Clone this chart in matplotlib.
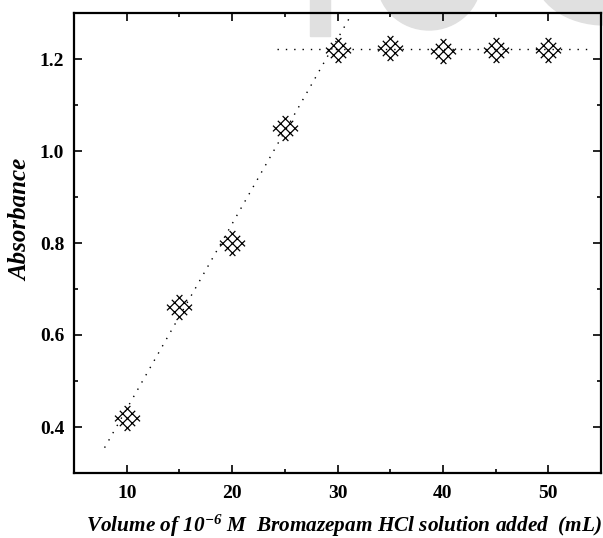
import numpy as np
import matplotlib.pyplot as plt
from matplotlib.path import Path
from matplotlib.patches import Rectangle, Ellipse
from matplotlib.ticker import MultipleLocator

# data
volume = [10, 15, 20, 25, 30, 35, 40, 45, 50]
absorbance = [0.42, 0.66, 0.80, 1.05, 1.22, 1.225, 1.217, 1.22, 1.22]

# the two dotted straight lines (end points)
rise_x = [7.9, 31.4]
rise_y = [0.355, 1.30]
flat_x = [24.3, 53.8]
flat_y = [1.222, 1.222]

plt.rcParams['font.family'] = ['Liberation Serif', 'DejaVu Serif']
plt.rcParams['mathtext.fontset'] = 'custom'
plt.rcParams['mathtext.rm'] = 'Liberation Serif:bold:italic'
plt.rcParams['mathtext.it'] = 'Liberation Serif:bold:italic'

# diagonal lattice (2 x 2 small diamonds) used as marker
d, L = 0.45, 0.72
u = np.array([1.0, 1.0]) / np.sqrt(2)
n = np.array([-1.0, 1.0]) / np.sqrt(2)
verts, codes = [], []
for k in (-1, 0, 1):
    for c, direc in ((k * d * n, u), (k * d * u, n)):
        verts += [c - L * direc, c + L * direc]
        codes += [Path.MOVETO, Path.LINETO]
lattice_marker = Path(verts, codes)

fig = plt.figure(figsize=[6.03, 5.38], dpi=100)
ax = fig.add_axes([74 / 603, 65 / 538, 527 / 603, 460 / 538])
ax.patch.set_alpha(0)

# faint watermark behind the plot
grey = '#e0e0e0'
fig.patches.append(Rectangle((310 / 603, 1 - 36 / 538), 20 / 603, 40 / 538,
                             transform=fig.transFigure, color=grey, zorder=-5))
fig.patches.append(Ellipse((429 / 603, 1 + 20 / 538), 104 / 603, 100 / 538,
                           transform=fig.transFigure, color=grey, zorder=-5))
fig.patches.append(Ellipse((605 / 603, 1 + 25 / 538), 140 / 603, 100 / 538,
                           transform=fig.transFigure, color=grey, zorder=-5))

ax.plot(rise_x, rise_y, color='k', lw=1.0, ls=(0, (1, 5)))
ax.plot(flat_x, flat_y, color='k', lw=1.0, ls=(0, (1, 5)))
ax.plot(volume, absorbance, ls='none', marker=lattice_marker, ms=18,
        mec='k', mfc='none', mew=0.9)

ax.set_xlim(5, 55)
ax.set_ylim(0.3, 1.3)
ax.xaxis.set_major_locator(MultipleLocator(10))
ax.xaxis.set_minor_locator(MultipleLocator(5))
ax.yaxis.set_major_locator(MultipleLocator(0.2))
ax.yaxis.set_minor_locator(MultipleLocator(0.1))
ax.tick_params(which='both', direction='in', top=True, right=True,
               labelsize=14, width=1.2)
ax.tick_params(which='major', length=6)
ax.tick_params(which='minor', length=3)
ax.tick_params(axis='x', pad=9)
ax.tick_params(axis='y', pad=7)
for lab in ax.get_xticklabels() + ax.get_yticklabels():
    lab.set_fontweight('bold')
for sp in ax.spines.values():
    sp.set_linewidth(1.6)

ax.set_xlabel(r'Volume of 10$^{-6}$ M  Bromazepam HCl solution added  (mL)',
              fontsize=15.3, fontweight='bold', fontstyle='italic')
ax.set_ylabel('Absorbance', fontsize=18, fontweight='bold', fontstyle='italic')
ax.xaxis.set_label_coords(0.513, -0.086)
ax.yaxis.set_label_coords(-0.08, 0.55)

plt.savefig('out.png', dpi=100)
